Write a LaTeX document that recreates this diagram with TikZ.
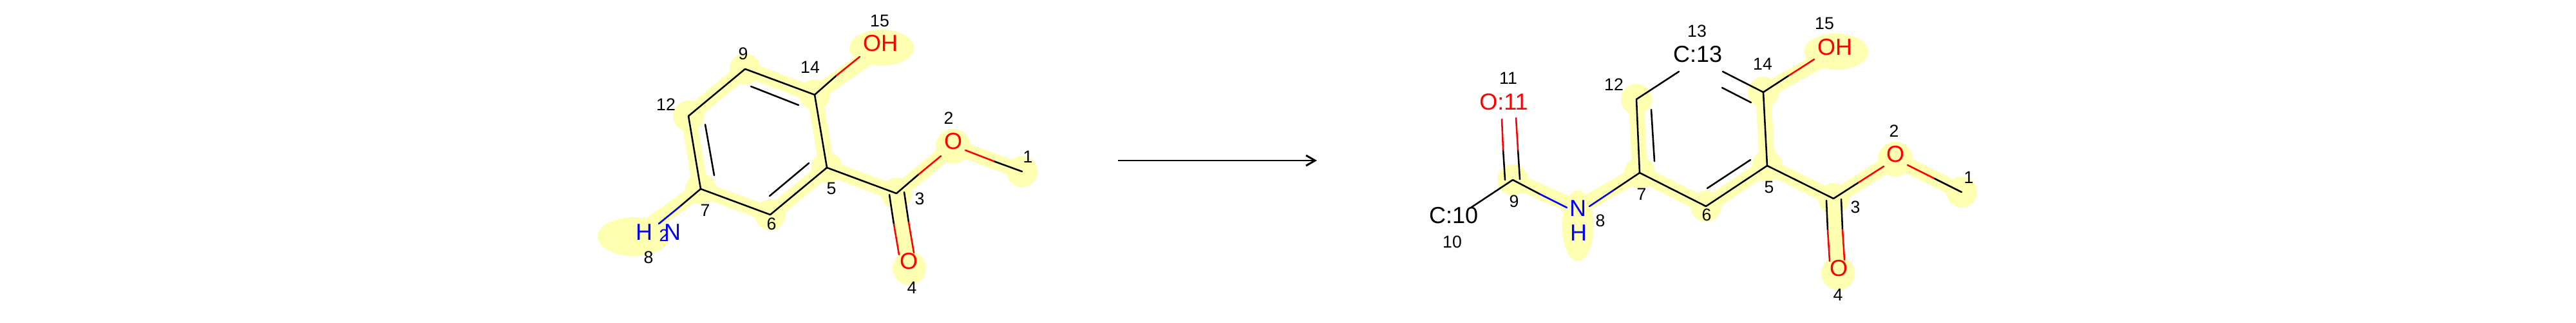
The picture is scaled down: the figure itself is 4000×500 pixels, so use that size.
\documentclass[tikz,border=0pt]{standalone}
\usepackage{fontspec}
\setmainfont{Liberation Sans}
\usetikzlibrary{calc}
\definecolor{hl}{HTML}{FFFFB2}
\definecolor{bondred}{HTML}{FF0000}
\definecolor{bondblue}{HTML}{0000FF}
\tikzset{
  hlbond/.style={draw=hl,line width=18pt,line cap=round},
  hlatom/.style={fill=hl,draw=none},
  bondk/.style={draw=black,line width=1.9pt,line cap=round},
  bondr/.style={draw=bondred,line width=1.9pt,line cap=round},
  bondb/.style={draw=bondblue,line width=1.9pt,line cap=round},
  num/.style={inner sep=0pt,font=\fontsize{20}{20}\selectfont,text=black},
  atomk/.style={inner sep=0pt,font=\fontsize{27}{27}\selectfont,text=black},
  atomr/.style={inner sep=0pt,font=\fontsize{27}{27}\selectfont,text=bondred},
  atomb/.style={inner sep=0pt,font=\fontsize{27}{27}\selectfont,text=bondblue},
  atomsub/.style={inner sep=0pt,font=\fontsize{20}{20}\selectfont,text=bondblue},
  rxn/.style={draw=black,line width=2.2pt}
}
\begin{document}
\begin{tikzpicture}[x=0.75pt,y=-0.75pt]
\useasboundingbox (0,0) rectangle (4000,500);
% ---------- left molecule atoms
\coordinate (a1) at (1587,266);
\coordinate (a2) at (1480,227);
\coordinate (a3) at (1392,300);
\coordinate (a4) at (1412,416);
\coordinate (a5) at (1284,260);
\coordinate (a6) at (1196,333);
\coordinate (a7) at (1088,293);
\coordinate (a8) at (984,367);
\coordinate (a9) at (1157,107);
\coordinate (a12) at (1069,180);
\coordinate (a14) at (1265,147);
\coordinate (a15) at (1369,74);
% highlights left
\foreach \p/\q in {a1/a2,a2/a3,a3/a4,a3/a5,a5/a6,a6/a7,a7/a8,a7/a12,a12/a9,a9/a14,a14/a5,a14/a15}
  \draw[hlbond] (\p) -- (\q);
\foreach \p in {a1,a3,a5,a6,a7,a9,a12,a14}
  \fill[hlatom] (\p) circle (24);
\fill[hlatom] (a2) circle (27);
\fill[hlatom] (a4) circle (26);
\fill[hlatom] (a8) ellipse (56 and 30);
\fill[hlatom] (a15) ellipse (50 and 28);
% ---------- right molecule atoms
\coordinate (b1) at (3046,298);
\coordinate (b2) at (2943,247);
\coordinate (b3) at (2847,308);
\coordinate (b4) at (2854,424);
\coordinate (b5) at (2744,257);
\coordinate (b6) at (2649,320);
\coordinate (b7) at (2546,268);
\coordinate (b8) at (2450,350);
\coordinate (b9) at (2349,279);
\coordinate (b12) at (2541,154);
\coordinate (b14) at (2738,143);
\coordinate (b15) at (2851,80);
\foreach \p/\q in {b1/b2,b2/b3,b3/b4,b3/b5,b5/b6,b6/b7,b7/b12,b14/b5,b14/b15}
  \draw[hlbond] (\p) -- (\q);
\draw[hlbond] (b9) -- (2450,323);
\draw[hlbond] (b7) -- (2450,323);
\foreach \p in {b1,b3,b5,b6,b7,b9,b12,b14}
  \fill[hlatom] (\p) circle (24);
\fill[hlatom] (b2) circle (27);
\fill[hlatom] (b4) circle (26);
\fill[hlatom] (b8) ellipse (24.5 and 55);
\fill[hlatom] (b15) ellipse (50 and 28);
% ---------- left bonds
\coordinate (a2e) at (1461,242); \coordinate (a2m) at (1427,270);
\coordinate (a2f) at (1499,233); \coordinate (a1m) at (1543,250);
\coordinate (a15e) at (1335,88); \coordinate (a15m) at (1299,117);
\coordinate (a8e) at (1023,347); \coordinate (a8m) at (1056,320);
\draw[bondk] (a1) -- (a1m); \draw[bondr] (a1m) -- (a2f);
\draw[bondk] (a3) -- (a2m); \draw[bondr] (a2m) -- (a2e);
\draw[bondk] (a14) -- (a15m); \draw[bondr] (a15m) -- (a15e);
\draw[bondk] (a7) -- (a8m); \draw[bondb] (a8m) -- (a8e);
\draw[bondk] (a3) -- (a5);
\draw[bondk] (a5) -- (a6);
\draw[bondk] (a6) -- (a7);
\draw[bondk] (a7) -- (a12);
\draw[bondk] (a12) -- (a9);
\draw[bondk] (a9) -- (a14);
\draw[bondk] (a14) -- (a5);
\draw[bondk] (1166,134) -- (1240,163);
\draw[bondk] (1095,193) -- (1109,272);
\draw[bondk] (1256,253) -- (1195,304);
\draw[bondk] (1381,302) -- (1388,348); \draw[bondr] (1388,348) -- (1396,395);
\draw[bondk] (1404,298) -- (1411,345); \draw[bondr] (1411,345) -- (1419,392);
% ---------- right bonds
\coordinate (b10e) at (2284,322);
\coordinate (b13l) at (2607,111);
\coordinate (b13r) at (2675,111);
\draw[bondk] (b9) -- (b10e);
\draw[bondk] (2337,279) -- (2334,232); \draw[bondr] (2334,232) -- (2332,185);
\draw[bondk] (2360,278) -- (2357,232); \draw[bondr] (2357,232) -- (2354,183);
\draw[bondk] (b9) -- (2391,301); \draw[bondb] (2391,301) -- (2433,322);
\draw[bondb] (2468,320) -- (2507,294); \draw[bondk] (2507,294) -- (b7);
\draw[bondk] (b7) -- (b12);
\draw[bondk] (b7) -- (b6);
\draw[bondk] (b6) -- (b5);
\draw[bondk] (b5) -- (b14);
\draw[bondk] (b5) -- (b3);
\draw[bondk] (b12) -- (b13l);
\draw[bondk] (b13r) -- (b14);
\draw[bondk] (2564,170) -- (2569,250);
\draw[bondk] (2651,292) -- (2718,248);
\draw[bondk] (2674,136) -- (2719,159);
\draw[bondk] (b14) -- (2778,117); \draw[bondr] (2778,117) -- (2817,92);
\draw[bondk] (b3) -- (2886,283); \draw[bondr] (2886,283) -- (2925,258);
\draw[bondr] (2962,256) -- (3004,277); \draw[bondk] (3004,277) -- (b1);
\draw[bondk] (2836,311) -- (2838,357); \draw[bondr] (2838,357) -- (2841,405);
\draw[bondk] (2859,309) -- (2861,356); \draw[bondr] (2861,356) -- (2864,403);
% ---------- left text
\node[atomr] (tO15) at (1367,67) {OH};
\node[atomr] (tO2) at (1480,219) {O};
\node[atomr] (tO4) at (1411,405) {O};
\node[atomb] (tH) at (1000,360) {H};
\node[atomsub] (t2) at (1031,365) {2};
\node[atomb] (tN) at (1044,360) {N};
\node[num] (n15) at (1366,32) {15};
\node[num] (n14) at (1258,104) {14};
\node[num] (n9) at (1154,83) {9};
\node[num] (n12) at (1034,162) {12};
\node[num] (n7) at (1095,326) {7};
\node[num] (n6) at (1198,347) {6};
\node[num] (n5) at (1291,292) {5};
\node[num] (n3) at (1428,308) {3};
\node[num] (n2) at (1473,183) {2};
\node[num] (n1) at (1596,243) {1};
\node[num] (n4) at (1416,446) {4};
\node[num] (n8) at (1007,399) {8};
% ---------- right text
\node[atomk] (uC10) at (2257,334) {C:10};
\node[atomr] (uO11) at (2335,158) {O:11};
\node[atomk] (uC13) at (2636,84) {C:13};
\node[atomb] (uN) at (2450,323) {N};
\node[atomb] (uH) at (2451,361) {H};
\node[atomr] (uO15) at (2849,73) {OH};
\node[atomr] (uO2) at (2943,239) {O};
\node[atomr] (uO4) at (2855,416) {O};
\node[num] (m15) at (2833,36) {15};
\node[num] (m14) at (2737,99) {14};
\node[num] (m5) at (2747,290) {5};
\node[num] (m3) at (2881,321) {3};
\node[num] (m2) at (2941,203) {2};
\node[num] (m1) at (3057,275) {1};
\node[num] (m4) at (2854,457) {4};
\node[num] (m13) at (2635,48) {13};
\node[num] (m12) at (2506,131) {12};
\node[num] (m11) at (2342,121) {11};
\node[num] (m9) at (2351,312) {9};
\node[num] (m10) at (2255,375) {10};
\node[num] (m8) at (2485,342) {8};
\node[num] (m7) at (2549,301) {7};
\node[num] (m6) at (2650,333) {6};
% ---------- reaction arrow
\coordinate (rs) at (1736,249);
\coordinate (re) at (2042,249);
\coordinate (rh1) at (2028,241);
\coordinate (rh2) at (2028,257);
\draw[rxn] (rs) -- (re);
\draw[rxn,line join=miter] (rh1) -- (re) -- (rh2);
\end{tikzpicture}
\end{document}
